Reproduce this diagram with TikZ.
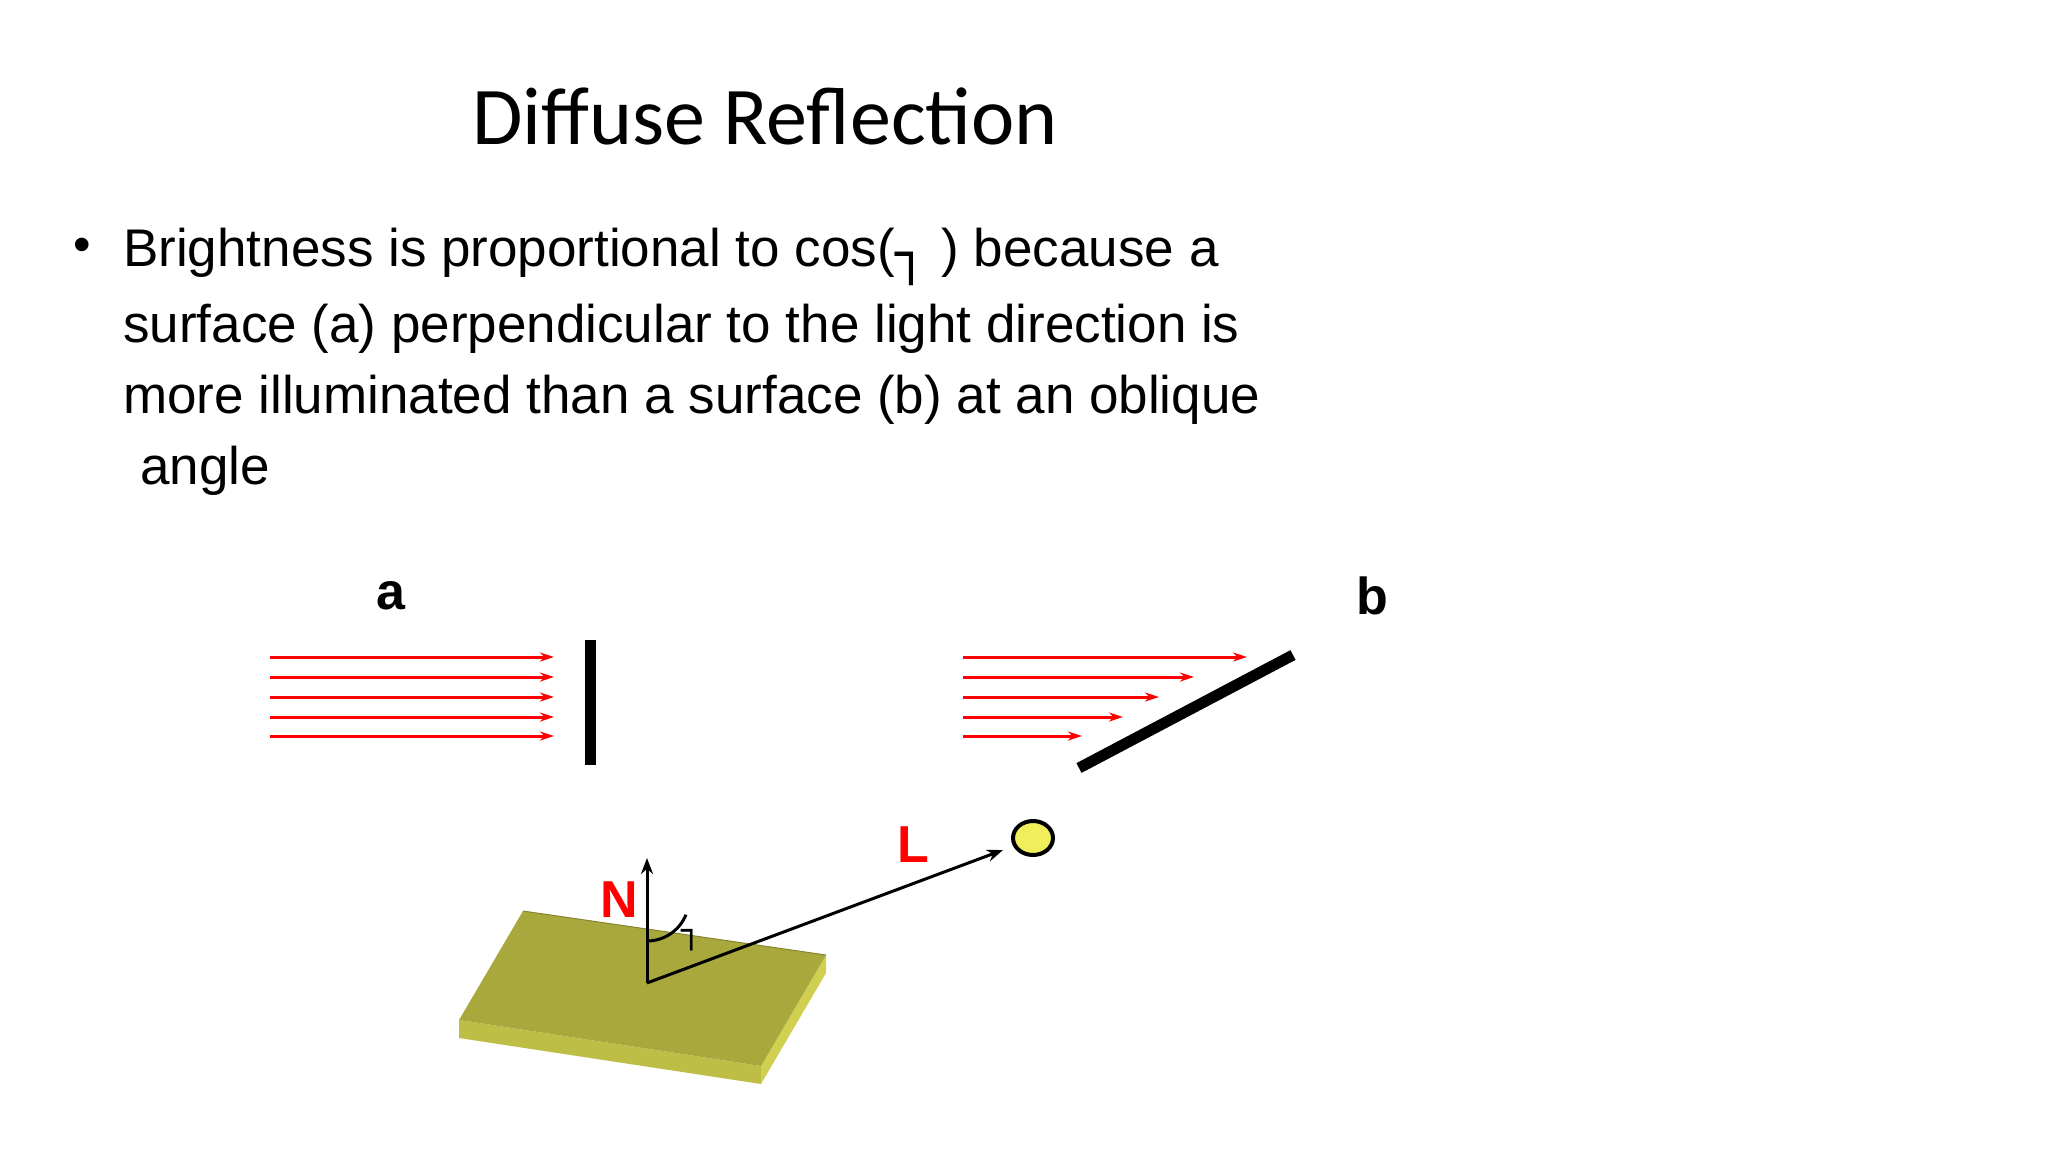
\documentclass[tikz,border=0pt]{standalone}
\usepackage{fontspec}
\setmainfont{Liberation Sans}
\newfontfamily\titlefont{Carlito}
\newfontfamily\symfont{DejaVu Sans}
\usetikzlibrary{arrows.meta,calc,shapes.geometric}
\definecolor{slabtop}{RGB}{169,168,60}
\definecolor{slabfront}{RGB}{190,189,70}
\definecolor{slabside}{RGB}{208,207,80}
\definecolor{sunfill}{RGB}{240,238,90}
\tikzset{
  ray/.style={red,line width=3pt,-{Stealth[length=14pt,width=9pt]}},
  vec/.style={black,line width=3pt,-{Stealth[length=16pt,width=12pt]}},
  lbl/.style={font=\fontsize{52}{60}\selectfont\bfseries},
  body/.style={font=\fontsize{53}{72}\selectfont,anchor=west,inner sep=0pt}
}
\begin{document}
\begin{tikzpicture}[x=1pt,y=-1pt]
\useasboundingbox (0,0) rectangle (2048,1152);
\node (title) at (765,116) {\titlefont\fontsize{82}{90}\selectfont Diffuse Reflection};
\node (bul) at (82,250) {\fontsize{50}{60}\selectfont •};
\node[body] (l1) at (123,257) {Brightness is proportional to cos(\raisebox{-0.12em}{\symfont ┐} ) because a};
\node[body] (l2) at (123,329) {surface (a) perpendicular to the light direction is};
\node[body] (l3) at (123,400) {more illuminated than a surface (b) at an oblique};
\node[body] (l4) at (140,471) {angle};
\node[lbl] (a) at (391,596) {a};
\node[lbl] (b) at (1372,596) {b};
% a rays
\foreach \y/\i in {657/1,677/2,697/3,717/4,736/5}{
  \coordinate (as\i) at (270,\y); \coordinate (ae\i) at (554,\y);
  \draw[ray] (as\i) -- (ae\i);}
\coordinate (bat) at (590,640); \coordinate (bab) at (590,765);
\draw[line width=11pt] (bat) -- (bab);
% b rays
\foreach \y/\e/\i in {657/1247/1,677/1194/2,697/1159/3,717/1123/4,736/1082/5}{
  \coordinate (bs\i) at (963,\y); \coordinate (be\i) at (\e,\y);
  \draw[ray] (bs\i) -- (be\i);}
\coordinate (bb1) at (1079,768); \coordinate (bb2) at (1293,655);
\draw[line width=11pt] (bb1) -- (bb2);
% slab
\coordinate (BL) at (523,911); \coordinate (BR) at (826,955);
\coordinate (FR) at (761,1066); \coordinate (FL) at (459,1020);
\fill[slabfront] (FL) -- (FR) -- ($(FR)+(0,18)$) -- ($(FL)+(0,18)$) -- cycle;
\fill[slabside] (FR) -- (BR) -- ($(BR)+(0,18)$) -- ($(FR)+(0,18)$) -- cycle;
\fill[slabtop] (BL) -- (BR) -- (FR) -- (FL) -- cycle;
\draw[slabtop!80!black,line width=1pt] (BL) -- (BR);
% vectors
\coordinate (O) at (647,983);
\coordinate (Ntip) at (647,858);
\node[ellipse,draw=black,line width=4pt,fill=sunfill,minimum width=40pt,minimum height=34pt,inner sep=0pt] (sun) at (1033,838) {};
\coordinate (Ltip) at (1003,850);
\draw[vec] (O) -- (Ntip);
\draw[vec] (O) -- (Ltip);
\draw[line width=3pt] ($(O)+(0,-42)$) arc[start angle=90,end angle=22,radius=42];
\node[lbl,red] (N) at (619,900) {N};
\node[lbl,red] (L) at (913,845) {L};
\node (th) at (692,940) {\symfont\fontsize{34}{40}\selectfont ┐};
\end{tikzpicture}
\end{document}
